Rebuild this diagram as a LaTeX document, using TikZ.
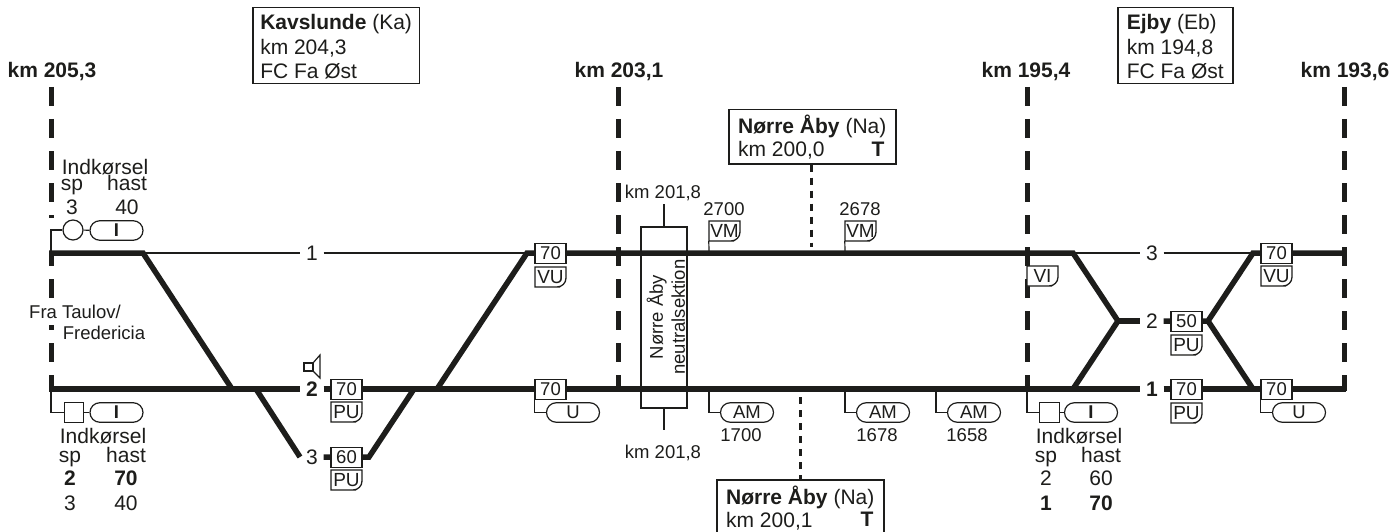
\documentclass[tikz,border=0pt]{standalone}
\usepackage{fontspec}
\setmainfont{Liberation Sans}
\usetikzlibrary{shapes.misc}
\definecolor{ink}{HTML}{1D1D1B}
\newcommand{\fbig}{\fontsize{21}{24.5}\selectfont}
\newcommand{\fsmall}{\fontsize{18.5}{22}\selectfont}
\tikzset{
  track/.style={draw=ink,line width=5.5pt},
  thinline/.style={draw=ink,line width=1.2pt},
  kmline/.style={draw=ink,line width=5pt,dash pattern=on 19pt off 13pt},
  fineline/.style={draw=ink,line width=3pt,dash pattern=on 7pt off 6pt},
  txt/.style={text=ink,font=\fbig,inner sep=0pt,text height=15pt,text depth=0pt},
  smalltxt/.style={text=ink,font=\fsmall,inner sep=0pt,text height=13.5pt,text depth=0pt},
  tracknum/.style={txt,minimum width=23pt},
  stationbox/.style={draw=ink,line width=1.5pt,fill=white,text=ink,font=\fbig,align=left,anchor=north west,inner xsep=7.5pt,inner ysep=3pt},
  speedbox/.style={draw=ink,line width=1.3pt,fill=white,text=ink,font=\fsmall,minimum width=31pt,minimum height=20.5pt,inner sep=0pt},
  signlabel/.style={text=ink,font=\fontsize{19}{22}\selectfont,minimum width=31pt,minimum height=20pt,inner sep=0pt},
  pill/.style={rounded rectangle,draw=ink,line width=1.2pt,fill=white,text=ink,font=\fsmall,minimum width=53pt,minimum height=19.5pt,inner sep=0pt},
  lamp/.style={circle,draw=ink,line width=1.2pt,minimum size=20pt,inner sep=0pt},
  lampbox/.style={rectangle,draw=ink,line width=1.2pt,minimum size=19.5pt,inner sep=0pt},
}
% sign with one rounded corner
\newcommand{\cornersign}[4]{
  \draw[thinline,line width=1.3pt,fill=white] (#1,#2) -- ++(31,0) [rounded corners=9pt] -- ++(0,20) -- ++(-15,0) [sharp corners] -- ++(-16,0) -- cycle;
  \node[signlabel] (#4) at (#1+15.5,#2+10) {#3};
}
\begin{document}
\begin{tikzpicture}[x=1pt,y=-1pt]
\useasboundingbox (0,0) rectangle (1394,532);

% Kilometre marks
\node[txt,font=\fbig\bfseries] (kmA) at (52,70) {km 205,3};
\node[txt,font=\fbig\bfseries] (kmB) at (619,70) {km 203,1};
\node[txt,font=\fbig\bfseries] (kmC) at (1026,70) {km 195,4};
\node[txt,font=\fbig\bfseries] (kmD) at (1345,70) {km 193,6};
\coordinate (kmAtop) at (51,87);
\coordinate (kmAa) at (51,218);
\coordinate (kmAb) at (51,253);
\coordinate (kmAc) at (51,266);
\coordinate (kmAd) at (51,279);
\coordinate (kmAe) at (51,391);
\draw[kmline] (kmAtop) -- (kmAa);
\draw[draw=ink,line width=5pt] (kmAb) -- (kmAc);
\draw[kmline] (kmAd) -- (kmAe);
\draw[kmline] (618,87) coordinate (kmBtop) -- (618,391) coordinate (kmBend);
\draw[kmline] (1027,87) coordinate (kmCtop) -- (1027,391) coordinate (kmCend);
\draw[kmline] (1344,87) coordinate (kmDtop) -- (1344,391) coordinate (kmDend);

% Stations
\node[stationbox,minimum width=166pt,minimum height=76pt] (kavslunde) at (252,7) {\rule{0pt}{18pt}\textbf{Kavslunde} (Ka)\\km 204,3\\FC Fa Øst};
\node[stationbox,minimum width=115pt,minimum height=76pt] (ejby) at (1117,7) {\rule{0pt}{18pt}\textbf{Ejby} (Eb)\\km 194,8\\FC Fa Øst};
\node[stationbox,minimum width=167pt,minimum height=54pt,inner xsep=9pt,font=\fontsize{21}{23}\selectfont] (naaTop) at (728,109) {\textbf{Nørre Åby} (Na)\\km 200,0};
\node[txt,font=\fbig\bfseries] (naaTopT) at (878,149) {T};
\node[stationbox,minimum width=167pt,minimum height=56pt,inner xsep=9pt,font=\fontsize{21}{23}\selectfont] (naaBot) at (716,479) {\textbf{Nørre Åby} (Na)\\km 200,1};
\node[txt,font=\fbig\bfseries] (naaBotT) at (867,519) {T};
\coordinate (naaTopEnd) at (811,247);
\coordinate (naaBotEnd) at (800,397);
\draw[fineline] (naaTop.south -| naaTopEnd) -- (naaTopEnd);
\draw[fineline] (naaBotEnd) -- (naaBot.north -| naaBotEnd);

% Track numbers
\node[tracknum] (nA) at (312,253) {1};
\node[tracknum,font=\fbig\bfseries] (nB) at (312,389) {2};
\node[tracknum] (nC) at (312,457) {3};
\node[tracknum] (nD) at (1152,253) {3};
\node[tracknum] (nE) at (1152,321) {2};
\node[tracknum,font=\fbig\bfseries] (nF) at (1152,389) {1};

% Track
\coordinate (a1) at (49,253);
\coordinate (a2) at (143,253);
\coordinate (a3) at (232,389);
\coordinate (b1) at (49,389);
\coordinate (b2) at (256,389);
\coordinate (b3) at (300,457);
\coordinate (b4) at (369,457);
\coordinate (b5) at (414,389);
\coordinate (b6) at (437,389);
\coordinate (b7) at (527,253);
\coordinate (c1) at (1073,253);
\coordinate (c2) at (1118,321);
\coordinate (c3) at (1073,389);
\coordinate (d1) at (1208,321);
\coordinate (d2) at (1253,253);
\coordinate (d3) at (1253,389);
\coordinate (e1) at (1346,253);
\coordinate (e2) at (1346,389);
\draw[track] (a1) -- (a2) -- (a3);
\draw[track] (b1) -- (nB);
\draw[track] (b2) -- (b3);
\draw[track] (nC) -- (b4) -- (b5);
\draw[track] (nB) -- (c3) -- (nF);
\draw[track] (b6) -- (b7) -- (c1) -- (c2) -- (c3);
\draw[track] (c2) -- (nE);
\draw[track] (nE) -- (d1) -- (d2) -- (e1);
\draw[track] (d1) -- (d3);
\draw[track] (nF) -- (e2);
\draw[thinline] (a2) -- (nA);
\draw[thinline] (nA) -- (b7);
\draw[thinline] (c1) -- (nD);
\draw[thinline] (nD) -- (d2);

% Neutral section
\node[draw=ink,line width=1.3pt,minimum width=46pt,minimum height=181pt,inner sep=0pt] (neutral) at (664,317.5) {};
\node[rotate=90,text=ink,font=\fsmall,align=center,inner sep=0pt] (neutraltxt) at (666,317) {Nørre Åby\\neutralsektion};
\coordinate (neutralA) at (664,204);
\coordinate (neutralB) at (664,430);
\draw[thinline] (neutral.north) -- (neutralA);
\draw[thinline] (neutral.south) -- (neutralB);
\node[smalltxt] (kmN1) at (663,192) {km 201,8};
\node[smalltxt] (kmN2) at (663,452) {km 201,8};

% Speed signs
\node[speedbox] (v1) at (346.5,389.5) {70};
\cornersign{331}{402}{PU}{pu1}
\node[speedbox] (v2) at (346.5,457.5) {60};
\cornersign{331}{470}{PU}{pu2}
\node[speedbox] (v3) at (550.5,253.5) {70};
\cornersign{535}{267}{VU}{vu1}
\node[speedbox] (v4) at (550.5,389.5) {70};
\node[speedbox] (v5) at (1186.5,321.5) {50};
\cornersign{1171}{335}{PU}{pu3}
\node[speedbox] (v6) at (1186.5,389.5) {70};
\cornersign{1171}{403}{PU}{pu4}
\node[speedbox] (v7) at (1276.5,253.5) {70};
\cornersign{1261}{266}{VU}{vu2}
\node[speedbox] (v8) at (1276.5,389.5) {70};
\node[pill] (u1) at (573,412.5) {U};
\draw[thinline] (v4.south west) |- (u1);
\node[pill] (u2) at (1299,412.5) {U};
\draw[thinline] (v8.south west) |- (u2);

% Catenary signs
\node[smalltxt] (lab2700) at (724,209) {2700};
\node[smalltxt] (lab2678) at (860,209) {2678};
\cornersign{709}{221}{VM}{vm1}
\cornersign{845}{221}{VM}{vm2}
\coordinate (vm1t) at (709,253);
\coordinate (vm2t) at (845,253);
\draw[thinline] (vm1.south west) -- (vm1t);
\draw[thinline] (vm2.south west) -- (vm2t);
\cornersign{1027}{266}{VI}{vi1}
\coordinate (vi1t) at (1027,253);
\draw[thinline] (vi1.north west) -- (vi1t);

\node[pill] (am1) at (747,412.5) {AM};
\node[pill] (am2) at (883,412.5) {AM};
\node[pill] (am3) at (974,412.5) {AM};
\coordinate (am1t) at (709,389);
\coordinate (am2t) at (845,389);
\coordinate (am3t) at (936,389);
\draw[thinline] (am1t) |- (am1);
\draw[thinline] (am2t) |- (am2);
\draw[thinline] (am3t) |- (am3);
\node[smalltxt] (lab1700) at (741,435) {1700};
\node[smalltxt] (lab1678) at (877,435) {1678};
\node[smalltxt] (lab1658) at (967,435) {1658};

% Entry signal, upper left
\node[lamp] (sigA) at (73,230) {};
\node[pill,font=\fsmall\bfseries] (pillA) at (116.5,230.5) {I};
\draw[thinline] (a1 -| kmAb) |- (sigA);
\draw[thinline] (sigA) -- (pillA);
\node[txt] (indA) at (105,167) {Indkørsel};
\node[txt] (spA) at (72,183) {sp};
\node[txt] (hastA) at (127,183) {hast};
\node[txt] (spA1) at (72,207) {3};
\node[txt] (hastA1) at (127,207) {40};

% Entry signal, lower left
\node[lampbox] (sigB) at (74,412.5) {};
\node[pill,font=\fsmall\bfseries] (pillB) at (116.5,412.5) {I};
\draw[thinline] (b1 -| kmAb) |- (sigB);
\draw[thinline] (sigB) -- (pillB);
\node[txt] (indB) at (103,436) {Indkørsel};
\node[txt,yshift=2pt] (spB) at (70,457) {sp};
\node[txt] (hastB) at (126,455) {hast};
\node[txt,font=\fbig\bfseries] (spB1) at (70,478) {2};
\node[txt,font=\fbig\bfseries] (hastB1) at (126,478) {70};
\node[txt] (spB2) at (70,503) {3};
\node[txt] (hastB2) at (126,503) {40};

% Entry signal, right
\node[lampbox] (sigC) at (1049.5,412.5) {};
\node[pill,font=\fsmall\bfseries] (pillC) at (1091,412.5) {I};
\draw[thinline] (c3 -| kmCtop) |- (sigC);
\draw[thinline] (sigC) -- (pillC);
\node[txt] (indC) at (1079,436) {Indkørsel};
\node[txt,yshift=2pt] (spC) at (1046,457) {sp};
\node[txt] (hastC) at (1101,455) {hast};
\node[txt] (spC1) at (1046,478) {2};
\node[txt] (hastC1) at (1101,478) {60};
\node[txt,font=\fbig\bfseries] (spC2) at (1046,503) {1};
\node[txt,font=\fbig\bfseries] (hastC2) at (1101,503) {70};

% Direction text
\node[smalltxt,fill=white,inner ysep=6pt] (fra1) at (75,312) {Fra Taulov/};
\node[smalltxt] (fra2) at (104,333) {Fredericia};

% Loudspeaker
\draw[thinline] (304,363) rectangle (313,371);
\draw[thinline] (313,363) -- (320,355) -- (320,378) -- (313,371);
\end{tikzpicture}
\end{document}
